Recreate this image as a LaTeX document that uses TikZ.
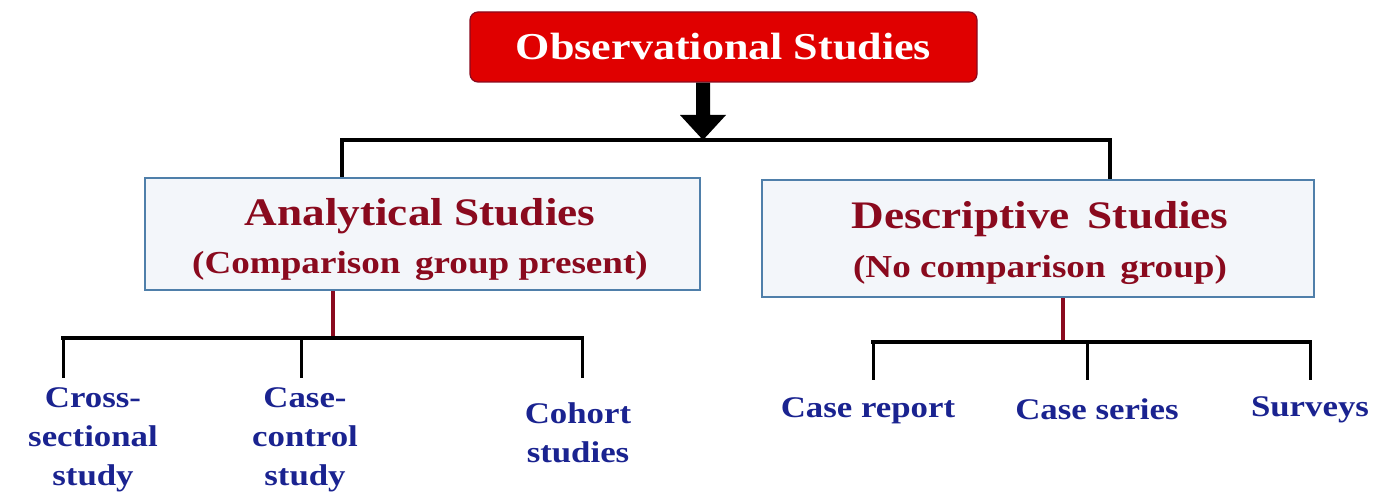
\documentclass[tikz,border=0pt]{standalone}
\usepackage{fontspec}
\setmainfont[FakeStretch=1.16]{Liberation Serif}
\usetikzlibrary{arrows.meta}
\definecolor{topred}{HTML}{E00000}
\definecolor{darkred}{HTML}{8A0A1E}
\definecolor{navy}{HTML}{1A2390}
\definecolor{boxblue}{HTML}{4F7FAA}
\definecolor{boxfill}{HTML}{F3F6FA}
\tikzset{
  topbox/.style={draw=darkred, line width=1.2pt, fill=topred, rounded corners=8pt, text=white, font=\bfseries\fontsize{38}{42}\selectfont, minimum width=507pt, minimum height=70pt, inner sep=0pt},
  midbox/.style={draw=boxblue, line width=2pt, fill=boxfill, text=darkred, align=center, inner sep=0pt},
  title/.style={text=darkred, font=\bfseries\fontsize{39}{42}\selectfont, inner sep=0pt},
  subtitle/.style={text=darkred, font=\bfseries\fontsize{32}{36}\selectfont, inner sep=0pt},
  leaf/.style={text=navy, align=center, font=\bfseries\fontsize{30}{39}\selectfont, inner sep=0pt},
  conn/.style={line width=4pt, draw=black},
  stem/.style={line width=4pt, draw=darkred},
}
\begin{document}
\begin{tikzpicture}[x=1pt,y=-1pt]
\useasboundingbox (0,0) rectangle (1384,492);
\node[topbox] (top) at (723.5,47) {Observational Studies};
\node[midbox, minimum width=555pt, minimum height=112pt] (ana) at (422.5,234) {};
\node[title] (anat) at (420,216) {Analytical Studies};
\node[subtitle] (anas) at (420,266) {(Comparison\, group present)};
\node[midbox, minimum width=552pt, minimum height=117pt] (des) at (1038,238.5) {};
\node[title] (dest) at (1040,219) {Descriptive\, Studies};
\node[subtitle] (dess) at (1040,270) {(No comparison\, group)};
% bus lines
\coordinate (busL) at (342,140);
\coordinate (busR) at (1110,140);
\coordinate (busM) at (703,140);
\draw[conn, line cap=rect] (busL) -- (busR);
\draw[conn] (busL) -- (ana.north -| busL);
\draw[conn] (busR) -- (des.north -| busR);
% big arrow
\fill (top.south -| 696,0) -- (696,115) -- (680,115) -- (busM) -- (726,115) -- (710,115) -- (top.south -| 710,0) -- cycle;
% left subtree
\coordinate (lm) at (333,338);
\coordinate (l1) at (63,338);
\coordinate (l2) at (301,338);
\coordinate (l3) at (582,338);
\draw[stem] (ana.south -| lm) -- (lm);
\draw[conn, line cap=rect] (l1) -- (l3);
\node[leaf] (cs) at (93,440) {Cross-\\sectional\\study};
\node[leaf] (cc) at (305,440) {Case-\\control\\study};
\node[leaf] (co) at (578,433) {Cohort\\studies};
\draw[line width=3pt] (l1) -- (63,378);
\draw[line width=3pt] (l2) -- (301,378);
\draw[line width=3pt] (l3) -- (582,378);
% right subtree
\coordinate (rm) at (1063,342);
\coordinate (r1) at (873,342);
\coordinate (r2) at (1087,342);
\coordinate (r3) at (1310,342);
\draw[stem] (des.south -| rm) -- (rm);
\draw[conn, line cap=rect] (r1) -- (r3);
\node[leaf] (cr) at (868,411) {Case report};
\node[leaf] (ser) at (1097,409) {Case series};
\node[leaf] (sur) at (1310,410) {Surveys};
\draw[line width=3pt] (r1) -- (873,380);
\draw[line width=3pt] (r2) -- (1087,380);
\draw[line width=3pt] (r3) -- (1310,380);
\end{tikzpicture}
\end{document}
